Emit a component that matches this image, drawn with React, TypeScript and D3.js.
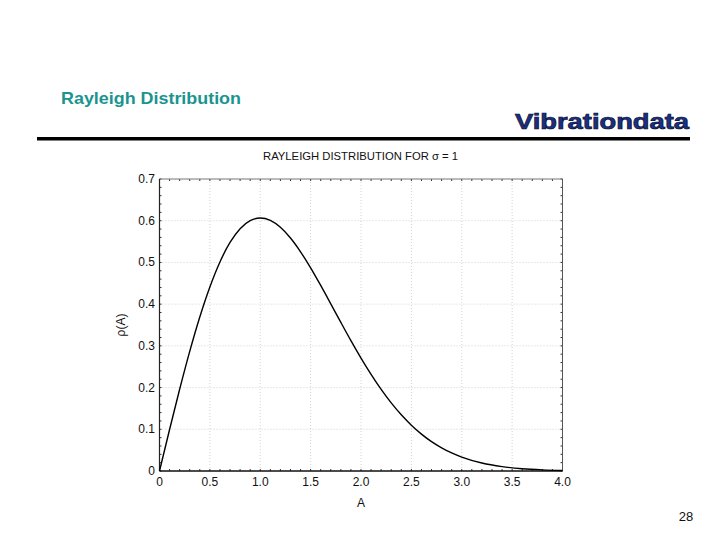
import React from "react";
import * as d3 from "d3";

const amplitude = [0, 0.1, 0.2, 0.3, 0.4, 0.5, 0.6, 0.7, 0.8, 0.9, 1.0, 1.1, 1.2, 1.3, 1.4, 1.5, 1.6, 1.7, 1.8, 1.9, 2.0, 2.1, 2.2, 2.3, 2.4, 2.5, 2.6, 2.7, 2.8, 2.9, 3.0, 3.2, 3.4, 3.6, 3.8, 4.0];
const density = [0, 0.0995, 0.196, 0.2868, 0.3692, 0.4412, 0.5012, 0.5479, 0.5809, 0.6003, 0.6065, 0.6007, 0.5841, 0.5584, 0.5254, 0.487, 0.4448, 0.4007, 0.3562, 0.3125, 0.2707, 0.2316, 0.1956, 0.1633, 0.1347, 0.1098, 0.0885, 0.0705, 0.0556, 0.0433, 0.0333, 0.0191, 0.0105, 0.0055, 0.0028, 0.0013];
const xTicks = [0, 0.5, 1.0, 1.5, 2.0, 2.5, 3.0, 3.5, 4.0];
const xTickLabels = ["0", "0.5", "1.0", "1.5", "2.0", "2.5", "3.0", "3.5", "4.0"];
const yTicks = [0, 0.1, 0.2, 0.3, 0.4, 0.5, 0.6, 0.7];
const yTickLabels = ["0", "0.1", "0.2", "0.3", "0.4", "0.5", "0.6", "0.7"];

export default function App() {
  const x = d3.scaleLinear().domain([0, 4]).range([159.5, 562.5]);
  const y = d3.scaleLinear().domain([0, 0.7]).range([471, 179]);
  const pts = amplitude.map((a, i) => [a, density[i]] as [number, number]);
  const line = d3
    .line<[number, number]>()
    .x((d) => x(d[0]))
    .y((d) => y(d[1]))
    .curve(d3.curveMonotoneX);
  const xMinor = d3.range(0, 41).map((i) => i / 10);
  const yMinor = d3.range(0, 36).map((i) => i / 50);
  const font = "Liberation Sans, Arial, sans-serif";
  return (
    <svg
      width={720}
      height={540}
      style={{ position: "absolute", left: 0, top: 0, background: "#fff" }}
      fontFamily={font}
    >
      <rect x={0} y={0} width={720} height={540} fill="#fff" />
      <text x={61} y={103.5} fontSize={16.5} fontWeight="bold" fill="#1a9490" textLength={180} lengthAdjust="spacingAndGlyphs">
        Rayleigh Distribution
      </text>
      <text x={515} y={129} fontSize={22} fontWeight="bold" fill="#1a2f86" stroke="#0a1030" strokeWidth={0.7} textLength={174} lengthAdjust="spacingAndGlyphs">
        Vibrationdata
      </text>
      <rect x={37} y={137} width={653} height={3.5} fill="#000" />
      <text x={263} y={160} fontSize={11.5} fill="#111" textLength={195} lengthAdjust="spacingAndGlyphs">
        RAYLEIGH DISTRIBUTION  FOR  σ = 1
      </text>
      {/* grid */}
      {xTicks.slice(1, -1).map((t) => (
        <line key={"gx" + t} x1={x(t)} x2={x(t)} y1={y(0)} y2={y(0.7)} stroke="#c8c8c8" strokeWidth={0.8} strokeDasharray="1,2" />
      ))}
      {yTicks.slice(1, -1).map((t) => (
        <line key={"gy" + t} x1={x(0)} x2={x(4)} y1={y(t)} y2={y(t)} stroke="#c8c8c8" strokeWidth={0.8} strokeDasharray="1,2" />
      ))}
      {/* minor ticks */}
      {xMinor.map((t) => (
        <g key={"mx" + t}>
          <line x1={x(t)} x2={x(t)} y1={y(0.7)} y2={y(0.7) + 2} stroke="#333" strokeWidth={1} />
          <line x1={x(t)} x2={x(t)} y1={y(0)} y2={y(0) - 2} stroke="#333" strokeWidth={1} />
        </g>
      ))}
      {yMinor.map((t) => (
        <g key={"my" + t}>
          <line x1={x(0)} x2={x(0) + 2} y1={y(t)} y2={y(t)} stroke="#333" strokeWidth={1} />
          <line x1={x(4)} x2={x(4) - 2} y1={y(t)} y2={y(t)} stroke="#333" strokeWidth={1} />
        </g>
      ))}
      {/* frame */}
      <line x1={x(0)} x2={x(4)} y1={y(0.7)} y2={y(0.7)} stroke="#777" strokeWidth={1} />
      <line x1={x(4)} x2={x(4)} y1={y(0.7)} y2={y(0)} stroke="#555" strokeWidth={1} />
      <line x1={x(0)} x2={x(0)} y1={y(0.7)} y2={y(0)} stroke="#222" strokeWidth={1.2} />
      <line x1={x(0)} x2={x(4)} y1={y(0)} y2={y(0)} stroke="#111" strokeWidth={1.5} />
      {/* curve */}
      <path d={line(pts) || ""} fill="none" stroke="#000" strokeWidth={1.4} />
      {/* tick labels */}
      {xTicks.map((t, i) => (
        <text key={"xl" + t} x={x(t)} y={486} fontSize={12} textAnchor="middle" fill="#111">
          {xTickLabels[i]}
        </text>
      ))}
      {yTicks.map((t, i) => (
        <text key={"yl" + t} x={155} y={y(t) + 4} fontSize={12} textAnchor="end" fill="#111">
          {yTickLabels[i]}
        </text>
      ))}
      <text x={361} y={507} fontSize={12} textAnchor="middle" fill="#111">A</text>
      <text transform="translate(125,325) rotate(-90)" fontSize={12} textAnchor="middle" fill="#111">ρ(A)</text>
      <text x={686} y={521} fontSize={13} textAnchor="middle" fill="#111">28</text>
    </svg>
  );
}
